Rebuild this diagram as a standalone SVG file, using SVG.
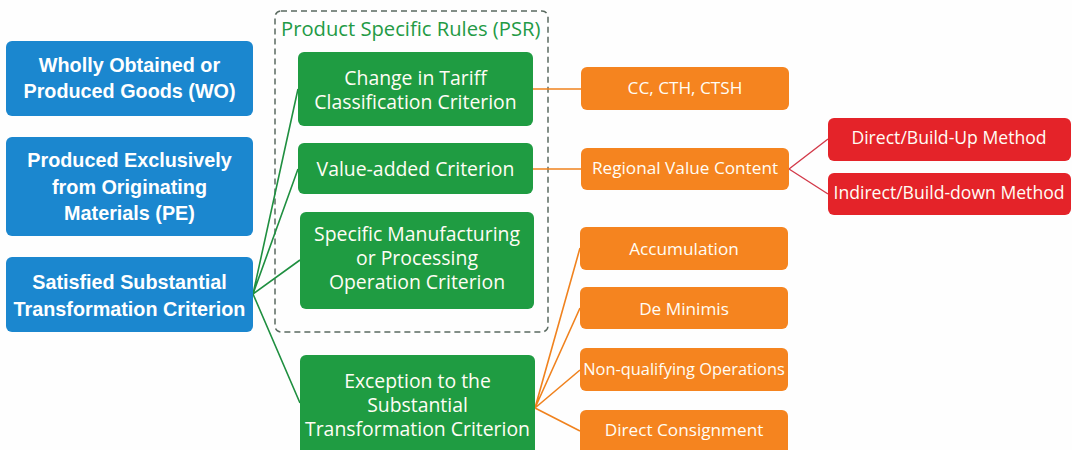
<svg xmlns="http://www.w3.org/2000/svg" width="1072" height="450" viewBox="0 0 1072 450">
<style>
.bg{fill:#fefefe}
.blue{fill:#1b87cf}
.green{fill:#1f9c42}
.orange{fill:#f5841f}
.red{fill:#e42329}
.bt{font-family:"Liberation Sans",Arial,sans-serif;font-weight:bold;font-size:19.8px;fill:#ffffff;text-anchor:middle}
.gt{font-family:"Open Sans","Noto Sans",sans-serif;font-size:19.4px;fill:#fffdf5;text-anchor:middle}
.ot{font-family:"Open Sans","Noto Sans",sans-serif;font-size:17.2px;fill:#fffdf5;text-anchor:middle}
.rt{font-family:"Open Sans","Noto Sans",sans-serif;font-size:17.6px;fill:#fffdf5;text-anchor:middle}
.title{font-family:"Open Sans","Noto Sans",sans-serif;font-size:20.2px;fill:#239a45}
.lg{stroke:#1f8f40;stroke-width:1.6;fill:none}
.lo{stroke:#f0821e;stroke-width:1.6;fill:none}
.lr{stroke:#d33a4a;stroke-width:1.4;fill:none}
</style>
<rect class="bg" x="0" y="0" width="1072" height="450"/>
<g id="psr-group">
<rect x="275" y="11" width="273" height="321" rx="6" fill="none" stroke="#5a6a60" stroke-width="1.5" stroke-dasharray="6,4"/>
<text class="title" x="281" y="36">Product Specific Rules (PSR)</text>
</g>
<g id="connectors">
<path class="lg" d="M253,294 L298,89 M253,294 L298,169 M253,294 L300,260 M253,294 L300,403"/>
<path class="lo" d="M533,89 L581,89 M533,169 L581,169 M535,408 L580,248 M535,408 L580,308 M535,408 L580,370 M535,408 L580,431"/>
<path class="lr" d="M789,169 L828,139 M789,169 L828,194"/>
</g>
<g id="wo">
<rect class="blue" x="6" y="41" width="247" height="75" rx="6"/>
<text class="bt" x="129.5" y="72">Wholly Obtained or</text>
<text class="bt" x="129.5" y="98">Produced Goods (WO)</text>
</g>
<g id="pe">
<rect class="blue" x="6" y="137" width="247" height="99" rx="6"/>
<text class="bt" x="129.5" y="167">Produced Exclusively</text>
<text class="bt" x="129.5" y="193.5">from Originating</text>
<text class="bt" x="129.5" y="220">Materials (PE)</text>
</g>
<g id="sst">
<rect class="blue" x="6" y="257" width="247" height="75" rx="6"/>
<text class="bt" x="129.5" y="289">Satisfied Substantial</text>
<text class="bt" x="129.5" y="315.5">Transformation Criterion</text>
</g>
<g id="ctc">
<rect class="green" x="298" y="52" width="235" height="74" rx="6"/>
<text class="gt" x="415.5" y="84.5">Change in Tariff</text>
<text class="gt" x="415.5" y="108.5">Classification Criterion</text>
</g>
<g id="vac">
<rect class="green" x="298" y="143" width="235" height="51" rx="6"/>
<text class="gt" x="415.5" y="176">Value-added Criterion</text>
</g>
<g id="smp">
<rect class="green" x="300" y="212" width="234" height="97" rx="6"/>
<text class="gt" x="417" y="241">Specific Manufacturing</text>
<text class="gt" x="417" y="265">or Processing</text>
<text class="gt" x="417" y="289">Operation Criterion</text>
</g>
<g id="exc">
<rect class="green" x="300" y="355" width="235" height="100" rx="6"/>
<text class="gt" x="417.5" y="388">Exception to the</text>
<text class="gt" x="417.5" y="412">Substantial</text>
<text class="gt" x="417.5" y="436">Transformation Criterion</text>
</g>
<g id="cc">
<rect class="orange" x="581" y="67" width="208" height="43" rx="6"/>
<text class="ot" x="685" y="94">CC, CTH, CTSH</text>
</g>
<g id="rvc">
<rect class="orange" x="581" y="148" width="208" height="42" rx="6"/>
<text class="ot" x="685" y="174">Regional Value Content</text>
</g>
<g id="acc">
<rect class="orange" x="580" y="227" width="208" height="43" rx="6"/>
<text class="ot" x="684" y="255">Accumulation</text>
</g>
<g id="dm">
<rect class="orange" x="580" y="287" width="208" height="42" rx="6"/>
<text class="ot" x="684" y="315">De Minimis</text>
</g>
<g id="nqo">
<rect class="orange" x="580" y="348" width="208" height="43" rx="6"/>
<text class="ot" x="684" y="375" style="font-size:16.4px">Non-qualifying Operations</text>
</g>
<g id="dc">
<rect class="orange" x="580" y="410" width="208" height="45" rx="6"/>
<text class="ot" x="684" y="436">Direct Consignment</text>
</g>
<g id="dbu">
<rect class="red" x="828" y="118" width="243" height="43" rx="6"/>
<text class="rt" x="949" y="144">Direct/Build-Up Method</text>
</g>
<g id="ibd">
<rect class="red" x="828" y="173" width="243" height="42" rx="6"/>
<text class="rt" x="949" y="199">Indirect/Build-down Method</text>
</g>
</svg>
